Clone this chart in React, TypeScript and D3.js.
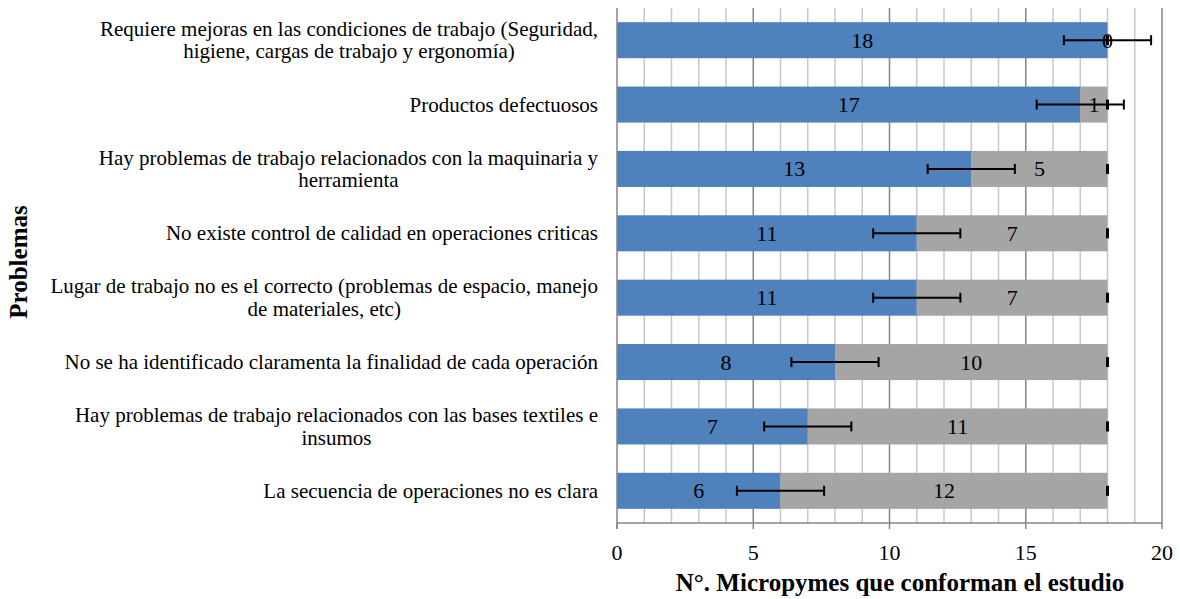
import React from "react";
import { scaleLinear, scaleBand, range, max } from "d3";

const categoryLines: string[][] = [
  ["Requiere mejoras en las condiciones de trabajo (Seguridad,", "higiene, cargas de trabajo y ergonomía)"],
  ["Productos defectuosos"],
  ["Hay problemas de trabajo relacionados con la maquinaria y", "herramienta"],
  ["No existe control de calidad en operaciones criticas"],
  ["Lugar de trabajo no es el correcto (problemas de espacio, manejo", "de materiales, etc)"],
  ["No se ha identificado claramenta la finalidad de cada operación"],
  ["Hay problemas de trabajo relacionados con las bases textiles e", "insumos"],
  ["La secuencia de operaciones no es clara"],
];
const blueValues = [18, 17, 13, 11, 11, 8, 7, 6];
const grayValues = [0, 1, 5, 7, 7, 10, 11, 12];
const blueErrors = [1.6, 1.6, 1.6, 1.6, 1.6, 1.6, 1.6, 1.6];
const grayErrors = [0, 0, 0, 0, 0, 0, 0, 0];
const xTicks = [0, 5, 10, 15, 20];
const xTitle = "N°. Micropymes que conforman el estudio";
const yTitle = "Problemas";

const FONT = "'Liberation Serif', 'Times New Roman', serif";
const CAT_SIZE = 21;

// measure label widths so wrapped labels are centered but right-aligned as a block
const ctx = typeof document !== "undefined" ? document.createElement("canvas").getContext("2d") : null;
const measure = (s: string) => {
  if (!ctx) return s.length * CAT_SIZE * 0.42;
  ctx.font = `${CAT_SIZE}px 'Liberation Serif'`;
  return ctx.measureText(s).width;
};

export default function App() {
  const left = 617;
  const right = 1162;
  const top = 8;
  const bottom = 523;
  const labelRight = 598;

  const x = scaleLinear().domain([0, 20]).range([left, right]);
  const y = scaleBand<number>()
    .domain(range(categoryLines.length))
    .range([top, bottom])
    .paddingInner(0.44)
    .paddingOuter(0.22);
  const bh = y.bandwidth();

  const errBar = (center: number, err: number, cy: number, key: string) => {
    const x1 = x(center - err);
    const x2 = x(center + err);
    return (
      <g key={key} stroke="#000" strokeWidth={2}>
        <line x1={x1} x2={x2} y1={cy} y2={cy} />
        <line x1={x1} x2={x1} y1={cy - 5} y2={cy + 5} />
        <line x1={x2} x2={x2} y1={cy - 5} y2={cy + 5} />
      </g>
    );
  };

  return (
    <svg width={1180} height={599} style={{ position: "absolute", left: 0, top: 0, background: "#fff" }} fontFamily={FONT}>
      {/* gridlines */}
      {range(1, 21).map((v) => (
        <line
          key={"g" + v}
          x1={x(v)}
          x2={x(v)}
          y1={top}
          y2={bottom}
          stroke={v % 5 === 0 ? "#868686" : "#c8c8c8"}
          strokeWidth={1.5}
        />
      ))}
      {/* bars */}
      {blueValues.map((b, i) => {
        const g = grayValues[i];
        const y0 = y(i)!;
        const cy = y0 + bh / 2;
        return (
          <g key={"b" + i}>
            <rect x={x(0)} y={y0} width={x(b) - x(0)} height={bh} fill="#4F81BD" />
            {g > 0 && <rect x={x(b)} y={y0} width={x(b + g) - x(b)} height={bh} fill="#A5A5A5" />}
            <text x={(x(0) + x(b)) / 2} y={cy + 7.5} textAnchor="middle" fontSize={22} fill="#000">
              {b}
            </text>
            <text x={(x(b) + x(b + g)) / 2} y={cy + 7.5} textAnchor="middle" fontSize={22} fill="#000">
              {g}
            </text>
            {errBar(b, blueErrors[i], cy, "eb" + i)}
            <line
              x1={x(b + g - grayErrors[i])}
              x2={x(b + g + grayErrors[i])}
              y1={cy}
              y2={cy}
              stroke="#000"
              strokeWidth={2}
            />
            <line x1={x(b + g)} x2={x(b + g)} y1={cy - 5} y2={cy + 5} stroke="#000" strokeWidth={3} />
          </g>
        );
      })}
      {/* axes */}
      <line x1={x(0)} x2={x(0)} y1={top} y2={bottom + 6} stroke="#868686" strokeWidth={1.5} />
      <line x1={x(0)} x2={x(20)} y1={bottom} y2={bottom} stroke="#868686" strokeWidth={1.5} />
      {xTicks.map((t) => (
        <g key={"t" + t}>
          <line x1={x(t)} x2={x(t)} y1={bottom} y2={bottom + 6} stroke="#868686" strokeWidth={1.5} />
          <text x={x(t)} y={560} textAnchor="middle" fontSize={22} fill="#000">
            {t}
          </text>
        </g>
      ))}
      {/* category labels */}
      {categoryLines.map((lines, i) => {
        const cy = y(i)! + bh / 2;
        const lh = 22.5;
        const startY = cy - ((lines.length - 1) * lh) / 2 + 7;
        const w = max(lines, measure) || 0;
        const cx = labelRight - w / 2;
        return (
          <text key={"c" + i} textAnchor="middle" fontSize={CAT_SIZE} fill="#000">
            {lines.map((l, j) => (
              <tspan key={j} x={cx} y={startY + j * lh}>
                {l}
              </tspan>
            ))}
          </text>
        );
      })}
      <text x={900} y={591} textAnchor="middle" fontSize={25} fontWeight="bold" fill="#000">
        {xTitle}
      </text>
      <text
        transform={`translate(27,262) rotate(-90)`}
        textAnchor="middle"
        fontSize={25}
        fontWeight="bold"
        fill="#000"
      >
        {yTitle}
      </text>
    </svg>
  );
}
